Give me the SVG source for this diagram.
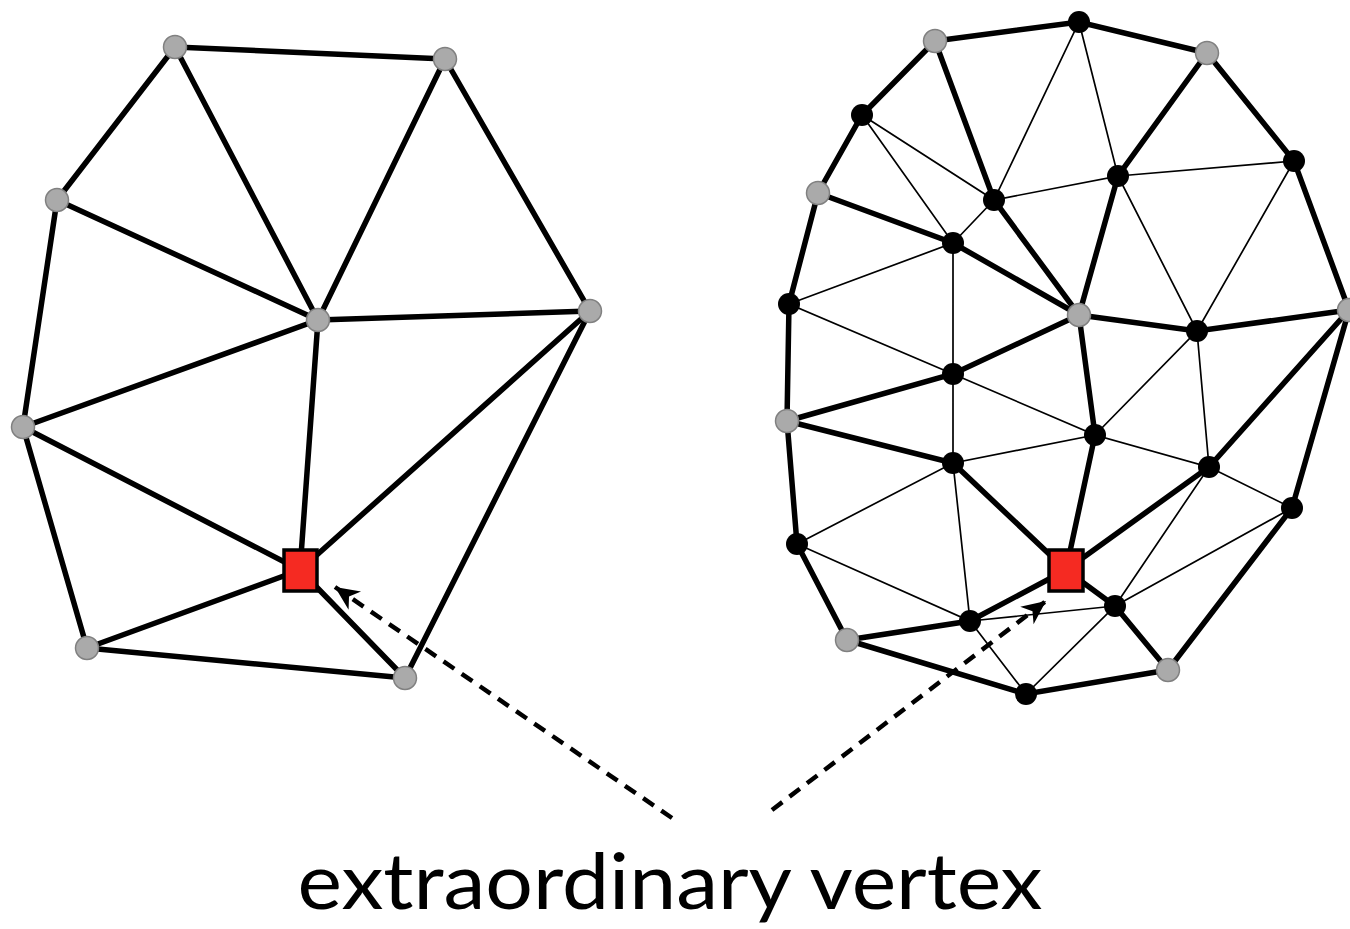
<svg xmlns="http://www.w3.org/2000/svg" width="1350" height="929" viewBox="0 0 1350 929">
<style>
.thick{stroke:#000;stroke-width:5.5;stroke-linecap:round;fill:none}
.thin{stroke:#000;stroke-width:1.7;fill:none}
.gv{fill:#aaaaaa;stroke:#808080;stroke-width:1.5}
.bv{fill:#000}
.ev{fill:#f52a22;stroke:#000;stroke-width:3.5}
.dash{stroke:#000;stroke-width:4.5;stroke-dasharray:13 9;fill:none}
.lbl{font-family:Lato,"Open Sans",sans-serif;font-size:78px;fill:#000}
</style>
<defs>
<marker id="ah" markerUnits="userSpaceOnUse" markerWidth="30" markerHeight="30" viewBox="-26 -12 30 24" refX="0" refY="0" orient="auto">
<path d="M0,0 L-24,-11 L-17,0 L-24,11 Z" fill="#000"/>
</marker>
</defs>
<rect width="1350" height="929" fill="#fff"/>
<g id="connectors">
<g id="left-edges" class="thick">
<line x1="175" y1="47" x2="445" y2="59"/>
<line x1="175" y1="47" x2="57" y2="200"/>
<line x1="175" y1="47" x2="318" y2="320"/>
<line x1="445" y1="59" x2="318" y2="320"/>
<line x1="445" y1="59" x2="590" y2="311"/>
<line x1="57" y1="200" x2="318" y2="320"/>
<line x1="57" y1="200" x2="23" y2="427"/>
<line x1="318" y1="320" x2="590" y2="311"/>
<line x1="318" y1="320" x2="23" y2="427"/>
<line x1="318" y1="320" x2="300" y2="570"/>
<line x1="23" y1="427" x2="300" y2="570"/>
<line x1="23" y1="427" x2="87" y2="648"/>
<line x1="590" y1="311" x2="300" y2="570"/>
<line x1="590" y1="311" x2="405" y2="678"/>
<line x1="87" y1="648" x2="300" y2="570"/>
<line x1="87" y1="648" x2="405" y2="678"/>
<line x1="300" y1="570" x2="405" y2="678"/>
</g>
<g id="right-thin" class="thin">
<polygon points="1079,22 1118,176 994,200"/>
<polygon points="862,115 994,200 953,243"/>
<polygon points="1118,176 1294,161 1197,331"/>
<polygon points="953,243 953,374 789,304"/>
<polygon points="1197,331 1209,467 1095,435"/>
<polygon points="953,374 1095,435 953,463"/>
<polygon points="797,544 953,463 970,621"/>
<polygon points="1209,467 1292,508 1115,606"/>
<polygon points="970,621 1115,606 1026,694"/>
</g>
<g id="right-thick" class="thick">
<polyline points="935,41 1079,22 1207,53"/>
<polyline points="935,41 862,115 818,193"/>
<polyline points="935,41 994,200 1079,315"/>
<polyline points="1207,53 1118,176 1079,315"/>
<polyline points="1207,53 1294,161 1349,310"/>
<polyline points="818,193 953,243 1079,315"/>
<polyline points="818,193 789,304 787,421"/>
<polyline points="1079,315 1197,331 1349,310"/>
<polyline points="1079,315 953,374 787,421"/>
<polyline points="1079,315 1095,435 1066,570"/>
<polyline points="787,421 953,463 1066,570"/>
<polyline points="787,421 797,544 847,640"/>
<polyline points="1349,310 1209,467 1066,570"/>
<polyline points="1349,310 1292,508 1168,670"/>
<polyline points="847,640 970,621 1066,570"/>
<polyline points="847,640 1026,694 1168,670"/>
<polyline points="1066,570 1115,606 1168,670"/>
</g>
<g id="arrows" class="dash">
<line x1="672" y1="818" x2="335" y2="587" marker-end="url(#ah)"/>
<line x1="772" y1="810" x2="1046" y2="601" marker-end="url(#ah)"/>
</g>
</g>
<g id="left-vertices">
<circle id="l1" class="gv" cx="175" cy="47" r="11.5"/>
<circle id="l2" class="gv" cx="445" cy="59" r="11.5"/>
<circle id="l3" class="gv" cx="57" cy="200" r="11.5"/>
<circle id="l4" class="gv" cx="318" cy="320" r="11.5"/>
<circle id="l5" class="gv" cx="590" cy="311" r="11.5"/>
<circle id="l6" class="gv" cx="23" cy="427" r="11.5"/>
<circle id="l7" class="gv" cx="87" cy="648" r="11.5"/>
<circle id="l8" class="gv" cx="405" cy="678" r="11.5"/>
<rect id="l-extra" class="ev" x="284" y="550" width="33" height="41"/>
</g>
<g id="right-vertices">
<circle id="b1" class="bv" cx="1079" cy="22" r="11"/>
<circle id="b2" class="bv" cx="862" cy="115" r="11"/>
<circle id="b3" class="bv" cx="994" cy="200" r="11"/>
<circle id="b4" class="bv" cx="1118" cy="176" r="11"/>
<circle id="b5" class="bv" cx="1294" cy="161" r="11"/>
<circle id="b6" class="bv" cx="953" cy="243" r="11"/>
<circle id="b7" class="bv" cx="789" cy="304" r="11"/>
<circle id="b8" class="bv" cx="1197" cy="331" r="11"/>
<circle id="b9" class="bv" cx="953" cy="374" r="11"/>
<circle id="b10" class="bv" cx="1095" cy="435" r="11"/>
<circle id="b11" class="bv" cx="953" cy="463" r="11"/>
<circle id="b12" class="bv" cx="1209" cy="467" r="11"/>
<circle id="b13" class="bv" cx="1292" cy="508" r="11"/>
<circle id="b14" class="bv" cx="797" cy="544" r="11"/>
<circle id="b15" class="bv" cx="970" cy="621" r="11"/>
<circle id="b16" class="bv" cx="1115" cy="606" r="11"/>
<circle id="b17" class="bv" cx="1026" cy="694" r="11"/>
<circle id="g1" class="gv" cx="935" cy="41" r="11.5"/>
<circle id="g2" class="gv" cx="1207" cy="53" r="11.5"/>
<circle id="g3" class="gv" cx="818" cy="193" r="11.5"/>
<circle id="g4" class="gv" cx="1079" cy="315" r="11.5"/>
<circle id="g5" class="gv" cx="1349" cy="310" r="11.5"/>
<circle id="g6" class="gv" cx="787" cy="421" r="11.5"/>
<circle id="g7" class="gv" cx="847" cy="640" r="11.5"/>
<circle id="g8" class="gv" cx="1168" cy="670" r="11.5"/>
<rect id="r-extra" class="ev" x="1049" y="550" width="34" height="41"/>
</g>
<g id="label">
<text class="lbl" x="670" y="909" text-anchor="middle" textLength="745" lengthAdjust="spacingAndGlyphs">extraordinary vertex</text>
</g>
</svg>
